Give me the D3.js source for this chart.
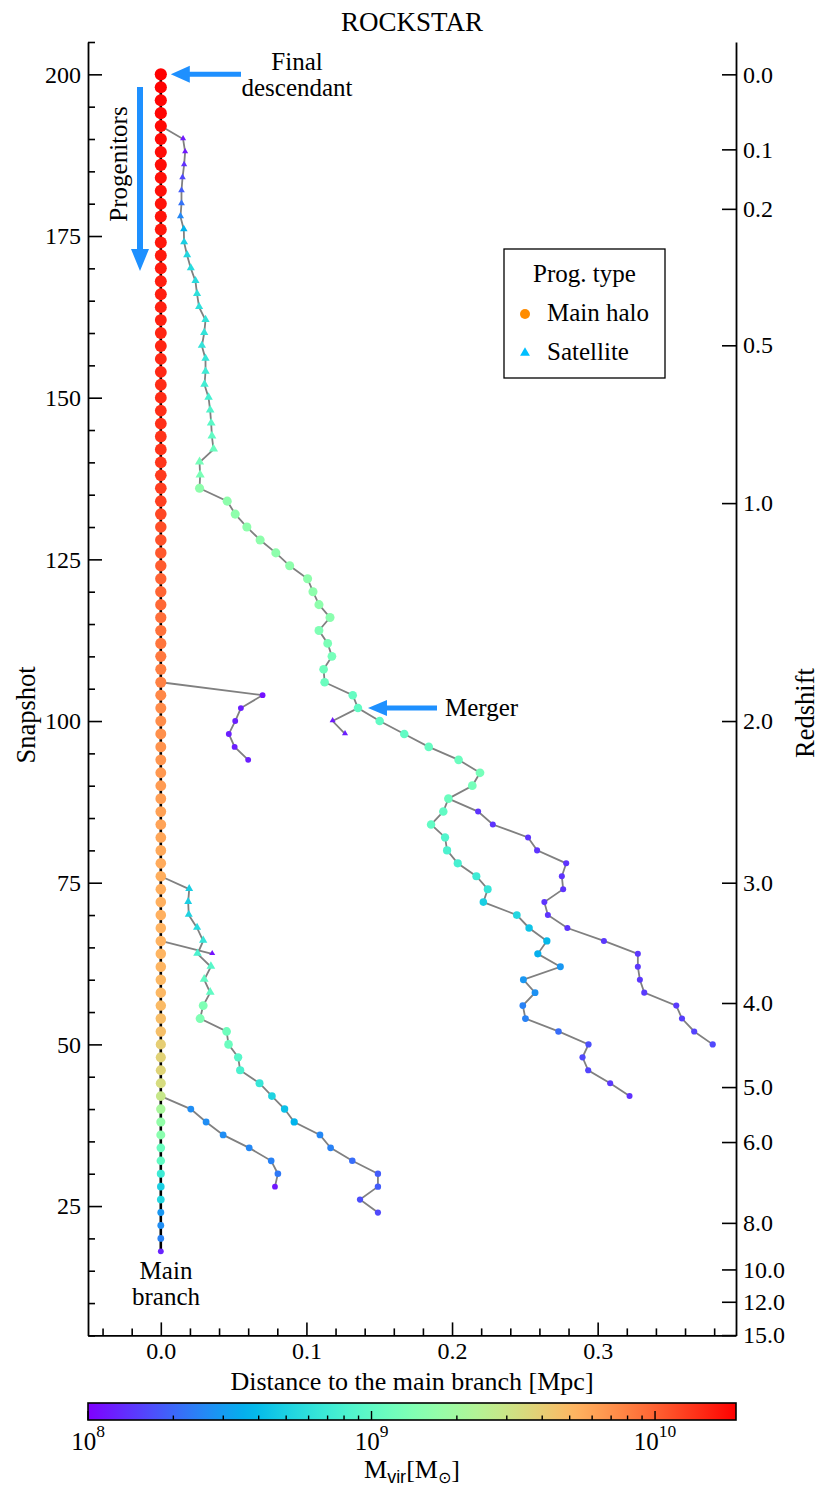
<!DOCTYPE html>
<html>
<head>
<meta charset="utf-8">
<script src="https://cdn.jsdelivr.net/npm/d3@7"></script>
<style>
  body { margin: 0; background: #fff; }
  svg text { font-family: "Liberation Serif", "Times New Roman", serif; }
</style>
</head>
<body>
<svg id="chart" width="831" height="1492"></svg>
<script>
// ---------- data ----------
// main branch: snapshot and log10 Mvir, distance is 0
const mainSnap = [200,198,196,194,192,190,188,186,184,182,180,178,176,174,172,170,168,166,164,162,
  160,158,156,154,152,150,148,146,144,142,140,138,136,134,132,130,128,126,124,122,
  120,118,116,114,112,110,108,106,104,102,100,98,96,94,92,90,88,86,84,82,
  80,78,76,74,72,70,68,66,64,62,60,58,56,54,52,50,48,46,44,42,
  40,38,36,34,32,30,28,26,24,22,20,18];
const mainLogM = [10.29,10.28,10.27,10.27,10.26,10.26,10.25,10.25,10.24,10.24,10.23,10.23,10.22,10.22,10.21,10.21,10.20,10.20,10.19,10.19,
  10.18,10.18,10.17,10.17,10.16,10.16,10.15,10.15,10.14,10.14,10.13,10.12,10.11,10.10,10.08,10.06,10.05,10.03,10.02,10.00,
  9.99,9.98,9.96,9.95,9.94,9.93,9.91,9.90,9.88,9.87,9.86,9.85,9.84,9.83,9.82,9.81,9.80,9.79,9.78,9.77,
  9.76,9.75,9.74,9.74,9.73,9.73,9.72,9.72,9.71,9.71,9.70,9.70,9.69,9.68,9.67,9.60,9.58,9.57,9.53,9.46,
  9.33,9.23,9.19,9.05,9.01,8.85,8.69,8.73,8.46,8.43,8.39,8.10];

// side branches: [snapshot, distance (Mpc), log10 Mvir]
const satTop = [[190,0.0153,8.07],[188,0.0167,8.07],[186,0.0160,8.14],[184,0.0149,8.21],[182,0.0142,8.27],
  [180,0.0142,8.34],[178,0.0135,8.41],[176,0.0158,8.57],[174,0.0160,8.69],[172,0.0181,8.73],[170,0.0206,8.75],
  [168,0.0238,8.75],[166,0.0249,8.78],[164,0.0263,8.78],[162,0.0307,8.80],[160,0.0298,8.80],[158,0.0282,8.80],
  [156,0.0307,8.82],[154,0.0307,8.85],[152,0.0300,8.87],[150,0.0328,8.89],[148,0.0339,8.94],[146,0.0346,8.98],
  [144,0.0351,9.01],[142,0.0362,9.05],[140,0.0266,9.10],[138,0.0270,9.12]];
const haloLong = [[136,0.0266,9.21],[134,0.0456,9.21],[132,0.0511,9.21],[130,0.0591,9.21],[128,0.0682,9.21],
  [126,0.0790,9.21],[124,0.0885,9.21],[122,0.1008,9.21],[120,0.1045,9.21],[118,0.1086,9.21],[116,0.1162,9.19],
  [114,0.1086,9.14],[112,0.1146,9.12],[110,0.1175,9.10],[108,0.1118,9.07],[106,0.1125,9.05],[104,0.1318,9.03],
  [102,0.1354,9.01],[100,0.1503,9.01],[98,0.1672,9.01],[96,0.1840,9.03],[94,0.2045,9.05],[92,0.2192,9.10],
  [90,0.2139,9.10],[88,0.1975,9.05]];
const haloCyan = [[86,0.1940,9.01],[84,0.1856,9.01],[82,0.1952,8.94],[80,0.1966,8.91],[78,0.2039,8.89],
  [76,0.2167,8.85],[74,0.2245,8.82],[72,0.2215,8.69],[70,0.2445,8.73],[68,0.2529,8.64],[66,0.2651,8.59],
  [64,0.2589,8.55],[62,0.2744,8.46],[60,0.2490,8.46],[58,0.2570,8.44],[56,0.2486,8.39],[54,0.2504,8.39],
  [52,0.2731,8.32],[50,0.2937,8.23],[48,0.2896,8.21],[46,0.2935,8.20],[44,0.3086,8.16],[42,0.3219,8.14]];
const haloPurple = [[86,0.2179,8.15],[84,0.2280,8.15],[82,0.2522,8.15],[80,0.2584,8.15],[78,0.2784,8.15],
  [76,0.2754,8.15],[74,0.2763,8.15],[72,0.2634,8.15],[70,0.2658,8.15],[68,0.2792,8.15],[66,0.3043,8.16],
  [64,0.3276,8.16],[62,0.3276,8.16],[60,0.3290,8.16],[58,0.3320,8.17],[56,0.3540,8.17],[54,0.3579,8.18],
  [52,0.3663,8.19],[50,0.3790,8.21]];
const mergerSat = [[100,0.1180,8.07],[98,0.1265,8.09]];
const branchB = [[104,0.0699,8.05],[102,0.0550,8.09],[100,0.0511,8.09],[98,0.0467,8.09],[96,0.0507,8.09],[94,0.0600,8.09]];
const satLow = [[74,0.0195,8.69],[72,0.0188,8.69],[70,0.0192,8.71],[68,0.0249,8.75],[66,0.0291,8.82],
  [64,0.0252,8.91],[62,0.0344,8.96],[60,0.0298,9.01],[58,0.0339,9.01]];
const haloLow = [[56,0.0291,9.14],[54,0.0270,9.14],[52,0.0452,9.07],[50,0.0465,9.05],[48,0.0531,8.96],
  [46,0.0545,8.91],[44,0.0678,8.82],[42,0.0763,8.71],[40,0.0850,8.62],[38,0.0916,8.57],[36,0.1093,8.41],
  [34,0.1166,8.39],[32,0.1315,8.32],[30,0.1491,8.27],[28,0.1491,8.27],[26,0.1368,8.23],[24,0.1491,8.21]];
const satPurple = [[64,0.0353,8.05]];
const branchE = [[40,0.0206,8.43],[38,0.0311,8.43],[36,0.0428,8.43],[34,0.0607,8.41],[32,0.0758,8.39],
  [30,0.0804,8.36],[28,0.0784,8.07]];

// axis ticks
const snapTicks = [25, 50, 75, 100, 125, 150, 175, 200];
const distTicks = [0, 0.1, 0.2, 0.3];
const zLabels = ['0.0','0.1','0.2','0.5','1.0','2.0','3.0','4.0','5.0','6.0','8.0','10.0','12.0','15.0'];
const zSnap = [200, 188.4, 179.2, 158.1, 133.7, 100.0, 75.0, 56.4, 43.4, 34.9, 22.4, 15.2, 10.2, 5.05];
const massMin = 1e8, massMax = 1.93e10;

(function () {
  // ---------- setup ----------
  const svg = d3.select('#chart');
  const padL = 88, padR = 736, padT = 42, padB = 1335.4;

  const x = d3.scaleLinear().domain([-0.05, 0.395]).range([padL, padR]);
  const y = d3.scaleLinear().domain([5, 205]).range([padB, padT]);
  const tScale = d3.scaleLinear().domain([8, Math.log10(massMax)]).range([0, 1]).clamp(true);
  const rScale = d3.scaleLinear().domain([8, 10.29]).range([2.8, 6.1]).clamp(true);

  // matplotlib 'rainbow'
  function rainbow(t) {
    const c = v => Math.max(0, Math.min(1, v)) * 255;
    return d3.rgb(c(Math.abs(2 * t - 0.5)), c(Math.sin(Math.PI * t)), c(Math.cos(Math.PI * t / 2))).formatHex();
  }
  const color = lm => rainbow(tScale(lm));

  const serif = '"Liberation Serif", "Times New Roman", serif';

  // ---------- axes ----------
  function styleAxis(sel) {
    sel.attr('font-family', serif).attr('font-size', 24);
    sel.selectAll('line').attr('stroke-width', 1.6);
    sel.select('.domain').attr('stroke-width', 1.8);
    sel.selectAll('text').attr('fill', '#000');
  }

  const yMinor = d3.range(5, 206, 5).filter(v => v % 25 !== 0);
  svg.append('g').attr('transform', `translate(${padL},0)`)
    .call(d3.axisLeft(y).tickValues(yMinor).tickFormat('').tickSize(-7).tickSizeOuter(0))
    .call(g => g.select('.domain').remove())
    .call(styleAxis);
  svg.append('g').attr('transform', `translate(${padL},0)`)
    .call(d3.axisLeft(y).tickValues(snapTicks).tickFormat(d3.format('d')).tickSize(-14).tickSizeOuter(0).tickPadding(7))
    .call(styleAxis);

  const xMinor = d3.range(-0.04, 0.39, 0.02).filter(v => Math.abs(v * 10 - Math.round(v * 10)) > 1e-6);
  svg.append('g').attr('transform', `translate(0,${padB})`)
    .call(d3.axisBottom(x).tickValues(xMinor).tickFormat('').tickSize(-7).tickSizeOuter(0))
    .call(g => g.select('.domain').remove())
    .call(styleAxis);
  svg.append('g').attr('transform', `translate(0,${padB})`)
    .call(d3.axisBottom(x).tickValues(distTicks).tickFormat(d3.format('.1f')).tickSize(-13).tickSizeOuter(0).tickPadding(7))
    .call(styleAxis);

  svg.append('g').attr('transform', `translate(${padR},0)`)
    .call(d3.axisRight(y).tickValues(zSnap).tickFormat((d, i) => zLabels[i]).tickSize(-14).tickSizeOuter(0).tickPadding(7))
    .call(styleAxis);

  // axis labels and title
  svg.append('text').attr('x', (padL + padR) / 2).attr('y', 31).attr('text-anchor', 'middle')
    .attr('font-size', 27).text('ROCKSTAR');
  svg.append('text').attr('x', (padL + padR) / 2).attr('y', 1390).attr('text-anchor', 'middle')
    .attr('font-size', 26).text('Distance to the main branch [Mpc]');
  svg.append('text').attr('transform', 'translate(35,715) rotate(-90)')
    .attr('text-anchor', 'middle').attr('font-size', 26.5).text('Snapshot');
  svg.append('text').attr('transform', 'translate(814,713) rotate(-90)')
    .attr('text-anchor', 'middle').attr('font-size', 26.5).text('Redshift');

  // ---------- tree ----------
  const plot = svg.append('g');
  const line = d3.line().x(d => x(d[1])).y(d => y(d[0]));

  const branches = [
    { pts: satTop, from: [192, 0], shape: 'tri' },
    { pts: haloLong, from: satTop[satTop.length - 1], shape: 'dot' },
    { pts: haloCyan, from: haloLong[haloLong.length - 1], shape: 'dot' },
    { pts: haloPurple, from: haloLong[haloLong.length - 1], shape: 'dot' },
    { pts: mergerSat, from: haloLong.find(p => p[0] === 102), shape: 'tri' },
    { pts: branchB, from: [106, 0], shape: 'dot' },
    { pts: satLow, from: [76, 0], shape: 'tri' },
    { pts: haloLow, from: satLow[satLow.length - 1], shape: 'dot' },
    { pts: satPurple, from: [66, 0], shape: 'tri' },
    { pts: branchE, from: [42, 0], shape: 'dot' }
  ];

  // grey links
  plot.selectAll('path.link').data(branches).enter().append('path')
    .attr('class', 'link')
    .attr('d', b => line([b.from].concat(b.pts)))
    .attr('fill', 'none').attr('stroke', '#808080').attr('stroke-width', 1.8);

  // main branch line
  const mainPts = mainSnap.map((s, i) => [s, 0, mainLogM[i]]);
  plot.append('path').attr('d', line(mainPts))
    .attr('fill', 'none').attr('stroke', '#000').attr('stroke-width', 2.6);

  // branch markers
  branches.forEach(b => {
    if (b.shape === 'dot') {
      plot.append('g').selectAll('circle').data(b.pts).enter().append('circle')
        .attr('cx', d => x(d[1])).attr('cy', d => y(d[0]))
        .attr('r', d => rScale(d[2])).attr('fill', d => color(d[2]));
    } else {
      plot.append('g').selectAll('path').data(b.pts).enter().append('path')
        .attr('transform', d => `translate(${x(d[1])},${y(d[0]) - 0.5})`)
        .attr('d', d => d3.symbol().type(d3.symbolTriangle).size(0.6 * Math.PI * rScale(d[2]) ** 2)())
        .attr('fill', d => color(d[2]));
    }
  });

  // main branch markers
  plot.append('g').selectAll('circle').data(mainPts).enter().append('circle')
    .attr('cx', d => x(d[1])).attr('cy', d => y(d[0]))
    .attr('r', d => rScale(d[2])).attr('fill', d => color(d[2]));

  // ---------- annotations ----------
  const arrowBlue = '#1e90ff';
  function arrow(x1, y1, x2, y2, headLen, headHalf, shaft) {
    const ang = Math.atan2(y2 - y1, x2 - x1) * 180 / Math.PI;
    const len = Math.hypot(x2 - x1, y2 - y1);
    const p = d3.path();
    p.moveTo(0, -shaft / 2); p.lineTo(len - headLen, -shaft / 2); p.lineTo(len - headLen, -headHalf);
    p.lineTo(len, 0); p.lineTo(len - headLen, headHalf); p.lineTo(len - headLen, shaft / 2);
    p.lineTo(0, shaft / 2); p.closePath();
    svg.append('path').attr('d', p.toString()).attr('fill', arrowBlue)
      .attr('transform', `translate(${x1},${y1}) rotate(${ang})`);
  }
  arrow(241, y(200), x(0) + 10, y(200), 19, 8.5, 5);
  arrow(140, 87, 140, 271, 22, 9, 6);
  arrow(437, y(102), x(0.1354) + 10, y(102), 19, 8, 5);

  const ann = svg.append('g').attr('font-size', 25);
  ann.append('text').attr('x', 297).attr('y', 70).attr('text-anchor', 'middle').text('Final');
  ann.append('text').attr('x', 297).attr('y', 96).attr('text-anchor', 'middle').text('descendant');
  ann.append('text').attr('x', 445).attr('y', 716).text('Merger');
  ann.append('text').attr('transform', 'translate(127,164) rotate(-90)').attr('text-anchor', 'middle').text('Progenitors');
  ann.append('text').attr('x', 166).attr('y', 1279).attr('text-anchor', 'middle').text('Main');
  ann.append('text').attr('x', 166).attr('y', 1305).attr('text-anchor', 'middle').text('branch');

  // ---------- legend ----------
  const lg = svg.append('g');
  lg.append('rect').attr('x', 504).attr('y', 249).attr('width', 161).attr('height', 129)
    .attr('fill', '#fff').attr('stroke', '#000').attr('stroke-width', 1.3);
  lg.append('text').attr('x', 584.5).attr('y', 282).attr('text-anchor', 'middle').attr('font-size', 25).text('Prog. type');
  lg.append('circle').attr('cx', 525).attr('cy', 314).attr('r', 5).attr('fill', '#ff8c00');
  lg.append('text').attr('x', 547).attr('y', 321).attr('font-size', 25).text('Main halo');
  lg.append('path').attr('transform', 'translate(525,353)')
    .attr('d', d3.symbol().type(d3.symbolTriangle).size(42)()).attr('fill', '#00bfff');
  lg.append('text').attr('x', 547).attr('y', 360).attr('font-size', 25).text('Satellite');

  // ---------- colorbar ----------
  const cbTop = 1403, cbH = 17;
  const cb = d3.scaleLog().domain([massMin, massMax]).range([padL, padR]);
  const grad = svg.append('defs').append('linearGradient').attr('id', 'cbgrad')
    .attr('x1', '0%').attr('x2', '100%').attr('y1', '0%').attr('y2', '0%');
  d3.range(0, 1.0001, 0.02).forEach(t => {
    grad.append('stop').attr('offset', `${t * 100}%`).attr('stop-color', rainbow(t));
  });
  svg.append('rect').attr('x', padL).attr('y', cbTop).attr('width', padR - padL).attr('height', cbH)
    .attr('fill', 'url(#cbgrad)');

  const cbMajor = [1e8, 1e9, 1e10];
  const cbMinor = [2e8,3e8,4e8,5e8,6e8,7e8,8e8,9e8,2e9,3e9,4e9,5e9,6e9,7e9,8e9,9e9];
  svg.append('g').selectAll('line').data(cbMinor).enter().append('line')
    .attr('x1', d => cb(d)).attr('x2', d => cb(d))
    .attr('y1', cbTop + cbH).attr('y2', cbTop + cbH - 4.5).attr('stroke', '#000').attr('stroke-width', 1.4);
  svg.append('g').selectAll('line').data(cbMajor).enter().append('line')
    .attr('x1', d => cb(d)).attr('x2', d => cb(d))
    .attr('y1', cbTop + cbH).attr('y2', cbTop + cbH - 9).attr('stroke', '#000').attr('stroke-width', 1.4);
  svg.append('rect').attr('x', padL).attr('y', cbTop).attr('width', padR - padL).attr('height', cbH)
    .attr('fill', 'none').attr('stroke', '#000').attr('stroke-width', 1.6);

  const cbLab = svg.append('g').selectAll('text').data(cbMajor).enter().append('text')
    .attr('x', d => cb(d)).attr('y', 1450).attr('text-anchor', 'middle').attr('font-size', 25);
  cbLab.append('tspan').text('10');
  cbLab.append('tspan').attr('font-size', 17.5).attr('dy', -13).text(d => Math.round(Math.log10(d)));

  const mv = svg.append('text').attr('x', (padL + padR) / 2).attr('y', 1478)
    .attr('text-anchor', 'middle').attr('font-size', 26);
  mv.append('tspan').text('M');
  mv.append('tspan').attr('font-family', '"Liberation Sans", Arial, sans-serif').attr('font-size', 18).attr('dy', 5).text('vir');
  mv.append('tspan').attr('dy', -5).text('[M');
  mv.append('tspan').attr('font-family', '"DejaVu Sans", sans-serif').attr('font-size', 16).attr('dy', 5).text('\u2299');
  mv.append('tspan').attr('dy', -5).text(']');
})();
</script>
</body>
</html>
